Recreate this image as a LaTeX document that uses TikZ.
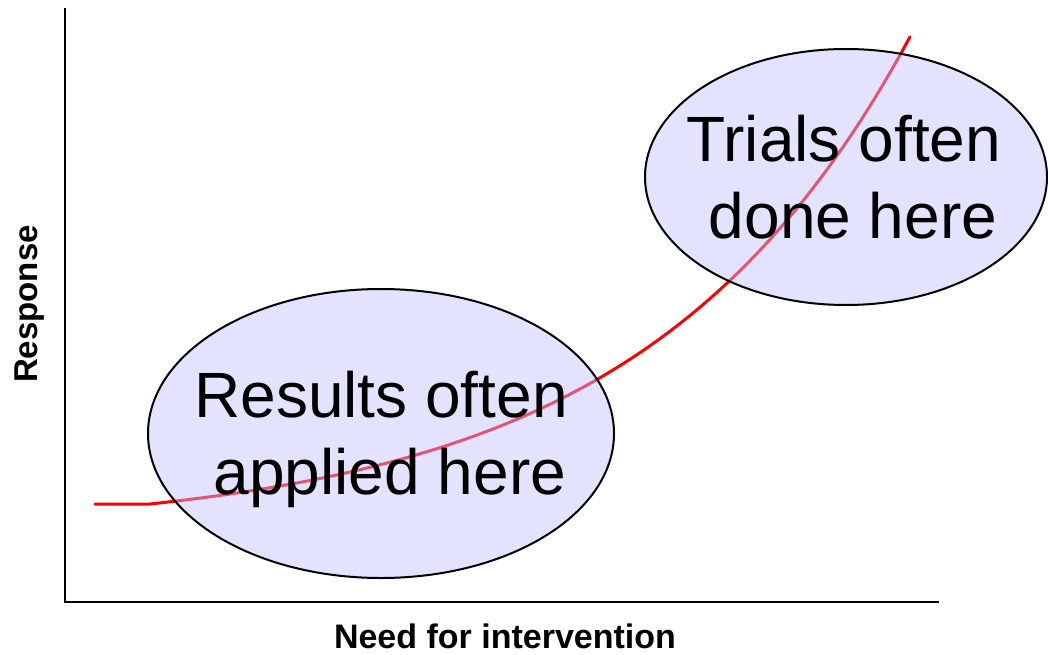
\documentclass[tikz,border=0pt]{standalone}
\usepackage{fontspec}
\setmainfont{Liberation Sans}
\usepackage{tikz}
\usetikzlibrary{shapes.geometric}

\definecolor{blobfill}{RGB}{192,192,255}

\tikzset{
  axis/.style={line width=1.5pt},
  curve/.style={red,line width=3pt,line cap=round},
  blob/.style={ellipse,draw,line width=2pt,fill=blobfill,fill opacity=0.45,
    inner sep=0pt},
  blobtext/.style={align=center,font=\fontsize{64}{77}\selectfont},
  axlabel/.style={font=\fontsize{33}{36}\selectfont\bfseries},
}

\begin{document}
\begin{tikzpicture}[x=1pt,y=-1pt]
  \useasboundingbox (0,0) rectangle (1048,655);
  \clip (0,0) rectangle (1048,655);
  % axes
  \coordinate (top) at (65,8);
  \coordinate (origin) at (65,602);
  \coordinate (right) at (939,602);
  \draw[axis] (top) -- (origin) -- (right);
  % response curve: flat start, then a steep rise
  \coordinate (start) at (95,504);
  \draw[curve] (start) -- (150,504)
    -- plot[domain=150:910,samples=80] (\x,{504-28.6*(exp(0.00375*(\x-150))-1)});
  % the two regions
  \node[blob,minimum width=466pt,minimum height=289pt] (applied) at (381,433.5) {};
  \node[blob,minimum width=402pt,minimum height=256pt] (trials) at (846,177) {};
  \node[blobtext] (appliedtext) at ([yshift=-6pt]applied.center)
    {Results often\\\hspace*{0.28em}applied here};
  \node[blobtext] (trialstext) at ([xshift=-2pt]trials.center)
    {Trials often\\\hspace*{0.28em}done here};
  % axis labels
  \node[axlabel,rotate=90] (resp) at (30,304) {Response};
  \node[axlabel,font=\fontsize{34}{36}\selectfont\bfseries,anchor=base,text depth=0pt]
    (need) at (505,648) {Need for intervention};
\end{tikzpicture}
\end{document}
